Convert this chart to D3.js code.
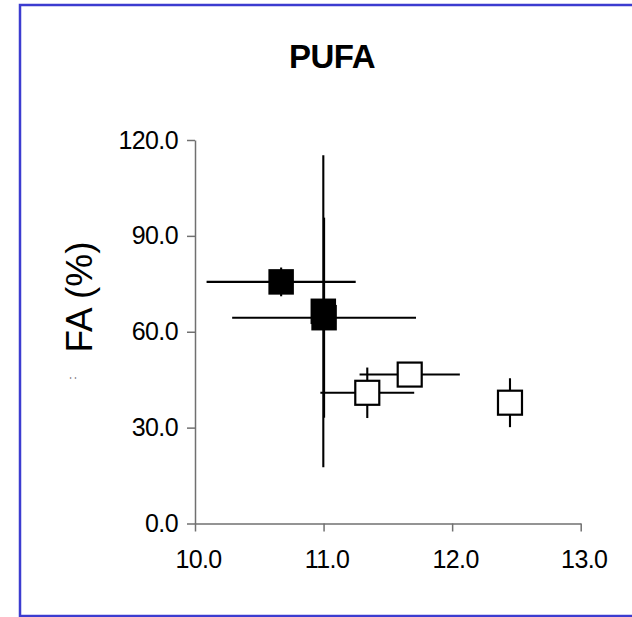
<!DOCTYPE html>
<html lang="en">
<head>
    <title>PUFA</title>
    <script src="https://d3js.org/d3.v7.min.js" charset="utf-8"></script>
    <style type="text/css">
        body
        {
            margin: 0;
            background-color: white;
        }
        svg
        {
            display: block;
            font-family: "Liberation Sans", Arial, sans-serif;
        }
        .axis path, .axis line
        {
            stroke: #707070;
            stroke-width: 1.5px;
        }
        .axis text
        {
            font-size: 25px;
            fill: black;
            letter-spacing: -0.6px;
        }
    </style>
</head>
<body>
    <div id="chart_div"></div>
    <script>
    "use strict";
    // values
    var titleText = "PUFA";
    var yLabel = "FA (%)";
    var xTicks = [10.0, 11.0, 12.0, 13.0];
    var yTicks = [0, 30, 60, 90, 120];

    // filled squares
    var filledX = [10.67, 10.998, 11.004];
    var filledY = [75.6, 66.4, 64.4];
    var filledXErr = [0.58, 0, 0.715];
    var filledYErr = [4.5, 48.8, 31.3];

    // open squares
    var openX = [11.34, 11.67, 12.45];
    var openY = [40.9, 46.6, 37.8];
    var openXErr = [0.365, 0.39, 0.08];
    var openYErr = [7.9, 3, 7.65];

    var svg_width = 632;
    var svg_height = 617;

    var svg = d3.select("#chart_div")
        .append("svg")
        .attr("width", svg_width)
        .attr("height", svg_height);

    // blue frame
    svg.append("rect")
        .attr("x", 20)
        .attr("y", 5)
        .attr("width", 640)
        .attr("height", 611)
        .attr("fill", "white")
        .attr("stroke", "#3c3cd0")
        .attr("stroke-width", 2.5);

    var xscale = d3.scaleLinear()
        .domain([10, 13])
        .range([195, 580.7]);
    var yscale = d3.scaleLinear()
        .domain([0, 120])
        .range([523.5, 140]);

    svg.append("text")
        .attr("x", 332)
        .attr("y", 68)
        .attr("text-anchor", "middle")
        .style("font-size", "33px")
        .style("font-weight", "bold")
        .style("letter-spacing", "-0.5px")
        .text(titleText);

    var xaxis = d3.axisBottom(xscale)
        .tickValues(xTicks)
        .tickFormat(d3.format(".1f"))
        .tickSizeInner(8)
        .tickSizeOuter(0)
        .tickPadding(19);
    var yaxis = d3.axisLeft(yscale)
        .tickValues(yTicks)
        .tickFormat(d3.format(".1f"))
        .tickSizeInner(8)
        .tickSizeOuter(0)
        .tickPadding(9);

    var gx = svg.append("g")
        .attr("class", "axis")
        .attr("transform", "translate(0," + yscale(0) + ")")
        .call(xaxis);
    gx.selectAll("text").attr("dx", "3px");

    svg.append("g")
        .attr("class", "axis")
        .attr("transform", "translate(" + xscale(10) + ",0)")
        .call(yaxis);

    svg.append("text")
        .attr("transform", "translate(92,297) rotate(-90)")
        .attr("text-anchor", "middle")
        .style("font-size", "37px")
        .text(yLabel);
    // clipped remnant under the axis title
    svg.append("text")
        .attr("transform", "translate(76,378) rotate(-90)")
        .attr("text-anchor", "middle")
        .style("font-size", "11px")
        .text(":");

    function toPoints(xs, ys, xe, ye)
    {
        return xs.map(function(d, i)
        {
            return { x: d, y: ys[i], xe: xe[i], ye: ye[i] };
        });
    }
    var filled = toPoints(filledX, filledY, filledXErr, filledYErr);
    var open = toPoints(openX, openY, openXErr, openYErr);
    var all = filled.concat(open);

    var bars = svg.append("g")
        .attr("stroke", "black")
        .attr("stroke-width", 2.1);
    bars.selectAll("line.h")
        .data(all.filter(function(d) { return d.xe > 0; }))
        .enter()
        .append("line")
        .attr("x1", function(d) { return xscale(d.x - d.xe); })
        .attr("x2", function(d) { return xscale(d.x + d.xe); })
        .attr("y1", function(d) { return yscale(d.y); })
        .attr("y2", function(d) { return yscale(d.y); });
    bars.selectAll("line.v")
        .data(all.filter(function(d) { return d.ye > 0; }))
        .enter()
        .append("line")
        .attr("x1", function(d) { return xscale(d.x); })
        .attr("x2", function(d) { return xscale(d.x); })
        .attr("y1", function(d) { return yscale(d.y - d.ye); })
        .attr("y2", function(d) { return yscale(d.y + d.ye); });

    var side = 25.5;
    svg.selectAll("rect.filled")
        .data(filled)
        .enter()
        .append("rect")
        .attr("class", "filled")
        .attr("x", function(d) { return xscale(d.x) - side / 2; })
        .attr("y", function(d) { return yscale(d.y) - side / 2; })
        .attr("width", side)
        .attr("height", side)
        .attr("fill", "black");

    var oside = 24;
    svg.selectAll("rect.open")
        .data(open)
        .enter()
        .append("rect")
        .attr("class", "open")
        .attr("x", function(d) { return xscale(d.x) - oside / 2; })
        .attr("y", function(d) { return yscale(d.y) - oside / 2; })
        .attr("width", oside)
        .attr("height", oside)
        .attr("fill", "white")
        .attr("stroke", "black")
        .attr("stroke-width", 2.2);
    </script>
</body>
</html>
